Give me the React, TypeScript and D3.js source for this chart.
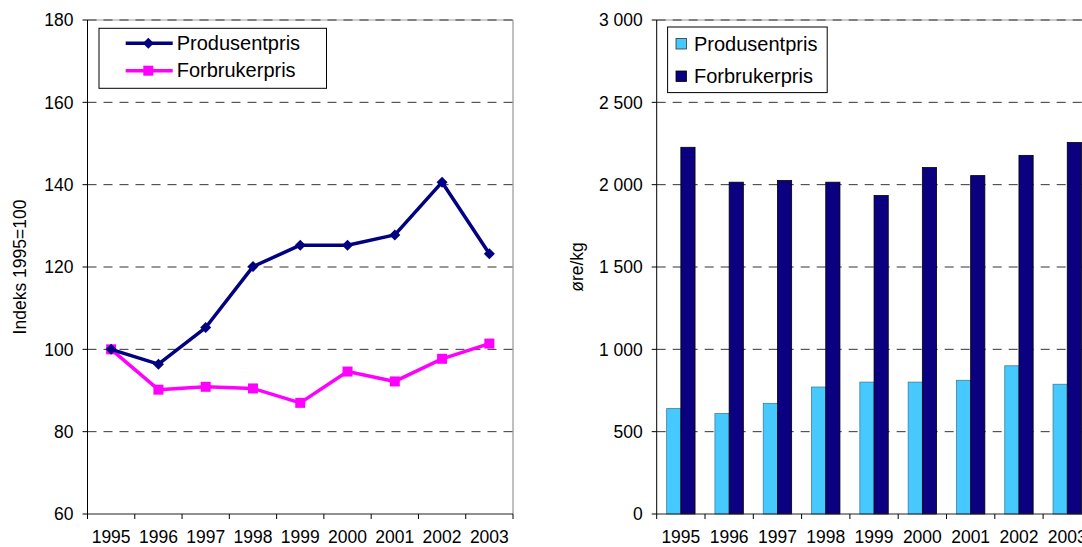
import React from "react";
import * as d3 from "d3";

const years = ["1995", "1996", "1997", "1998", "1999", "2000", "2001", "2002", "2003"];
const produsentIndex = [100, 96.4, 105.3, 120.1, 125.3, 125.3, 127.8, 140.6, 123.2];
const forbrukerIndex = [100, 90.2, 90.9, 90.5, 87.0, 94.6, 92.2, 97.7, 101.4];
const produsentPris = [640, 610, 672, 771, 801, 801, 812, 900, 788];
const forbrukerPris = [2227, 2015, 2025, 2015, 1934, 2104, 2055, 2178, 2256];
const leftTicks = [60, 80, 100, 120, 140, 160, 180];
const rightTicks = [0, 500, 1000, 1500, 2000, 2500, 3000];
const seriesNames = ["Produsentpris", "Forbrukerpris"];

const FONT = "'Liberation Sans', Arial, sans-serif";
const NAVY = "#000080";
const MAGENTA = "#FF00FF";
const SKY = "#45C9FF";
const DARK = "#0A0080";

const TOP = 20;
const BOT = 514;
const XLAB_Y = 543;

function fmtThousands(v: number) {
  const s = String(v);
  return s.length > 3 ? s.slice(0, s.length - 3) + " " + s.slice(s.length - 3) : s;
}

function LeftChart() {
  const x0 = 87.5, x1 = 513;
  const x = d3.scaleBand<string>().domain(years).range([x0, x1]).padding(0);
  const y = d3.scaleLinear().domain([60, 180]).range([BOT, TOP]);
  const cx = (i: number) => (x(years[i]) as number) + x.bandwidth() / 2;
  const line = d3.line<number>().x((_, i) => cx(i)).y((d) => y(d));
  const boundaries = years.map((yr) => x(yr) as number).concat([x1]);
  const diamond = (px: number, py: number, r: number) =>
    `M${px},${py - r}L${px + r},${py}L${px},${py + r}L${px - r},${py}Z`;
  return (
    <g>
      <line x1={x0} x2={x1} y1={TOP} y2={TOP} stroke="#9a9a9a" strokeWidth={1} />
      <line x1={x1} x2={x1} y1={TOP} y2={BOT} stroke="#808080" strokeWidth={1} />
      {leftTicks.filter((t) => t !== 60).map((t) => (
        <line key={t} x1={x0} x2={x1} y1={y(t)} y2={y(t)} stroke="#333" strokeWidth={1} strokeDasharray="9 7" />
      ))}
      <line x1={x0} x2={x0} y1={TOP} y2={BOT} stroke="#000" strokeWidth={1} />
      <line x1={x0} x2={x1} y1={BOT} y2={BOT} stroke="#222" strokeWidth={1} />
      {leftTicks.map((t) => (
        <g key={t}>
          <line x1={x0 - 5} x2={x0} y1={y(t)} y2={y(t)} stroke="#000" />
          <text x={x0 - 14} y={y(t)} dy="0.36em" textAnchor="end" fontSize={17.5} fontFamily={FONT}>{t}</text>
        </g>
      ))}
      {boundaries.map((b, i) => (
        <line key={i} x1={b} x2={b} y1={BOT} y2={BOT + 5} stroke="#000" />
      ))}
      {years.map((yr, i) => (
        <text key={yr} x={cx(i)} y={XLAB_Y} textAnchor="middle" fontSize={17.5} fontFamily={FONT}>{yr}</text>
      ))}
      <text transform={`translate(20,267) rotate(-90)`} textAnchor="middle" dy="0.36em" fontSize={17.5} fontFamily={FONT}>Indeks 1995=100</text>
      <path d={line(forbrukerIndex) || ""} fill="none" stroke={MAGENTA} strokeWidth={3.5} strokeLinejoin="round" />
      {forbrukerIndex.map((v, i) => (
        <rect key={i} x={cx(i) - 5} y={y(v) - 5} width={10} height={10} fill={MAGENTA} />
      ))}
      <path d={line(produsentIndex) || ""} fill="none" stroke={NAVY} strokeWidth={3.5} strokeLinejoin="round" />
      {produsentIndex.map((v, i) => (
        <path key={i} d={diamond(cx(i), y(v), 5.5)} fill={NAVY} />
      ))}
      <rect x={99} y={28.3} width={227.5} height={60} fill="#fff" stroke="#000" strokeWidth={1} />
      <line x1={125.7} x2={172.7} y1={43.3} y2={43.3} stroke={NAVY} strokeWidth={3.5} />
      <path d={diamond(148.3, 43.3, 5.5)} fill={NAVY} />
      <line x1={125.7} x2={172.7} y1={70.7} y2={70.7} stroke={MAGENTA} strokeWidth={3.5} />
      <rect x={148.3 - 5} y={70.7 - 5} width={10} height={10} fill={MAGENTA} />
      <text x={176.7} y={42.5} dy="0.36em" fontSize={20} fontFamily={FONT}>{seriesNames[0]}</text>
      <text x={176.7} y={70} dy="0.36em" fontSize={20} fontFamily={FONT}>{seriesNames[1]}</text>
    </g>
  );
}

function RightChart() {
  const x0 = 656.7;
  const band = 48.3;
  const x1 = x0 + band * years.length;
  const x = d3.scaleBand<string>().domain(years).range([x0, x1]).padding(0);
  const y = d3.scaleLinear().domain([0, 3000]).range([BOT, TOP]);
  const cx = (i: number) => (x(years[i]) as number) + x.bandwidth() / 2;
  const bw = x.bandwidth() * 0.294;
  const boundaries = years.map((yr) => x(yr) as number);
  return (
    <g>
      <line x1={x0} x2={x1} y1={TOP} y2={TOP} stroke="#9a9a9a" strokeWidth={1} />
      {rightTicks.filter((t) => t !== 0).map((t) => (
        <line key={t} x1={x0} x2={x1} y1={y(t)} y2={y(t)} stroke="#333" strokeWidth={1} strokeDasharray="9 7" />
      ))}
      {years.map((yr, i) => (
        <g key={yr}>
          <rect x={cx(i) - bw} y={y(produsentPris[i])} width={bw} height={BOT - y(produsentPris[i])} fill={SKY} stroke="#3f7f99" strokeWidth={0.8} />
          <rect x={cx(i)} y={y(forbrukerPris[i])} width={bw} height={BOT - y(forbrukerPris[i])} fill={DARK} stroke="#000" strokeWidth={0.8} />
        </g>
      ))}
      <line x1={x0} x2={x0} y1={TOP} y2={BOT} stroke="#000" strokeWidth={1} />
      <line x1={x0} x2={x1} y1={BOT} y2={BOT} stroke="#222" strokeWidth={1} />
      {rightTicks.map((t) => (
        <g key={t}>
          <line x1={x0 - 5} x2={x0} y1={y(t)} y2={y(t)} stroke="#000" />
          <text x={x0 - 14} y={y(t)} dy="0.36em" textAnchor="end" fontSize={17.5} fontFamily={FONT}>{fmtThousands(t)}</text>
        </g>
      ))}
      {boundaries.map((b, i) => (
        <line key={i} x1={b} x2={b} y1={BOT} y2={BOT + 5} stroke="#000" />
      ))}
      {years.map((yr, i) => (
        <text key={yr} x={cx(i)} y={XLAB_Y} textAnchor="middle" fontSize={17.5} fontFamily={FONT}>{yr}</text>
      ))}
      <text transform={`translate(577,267) rotate(-90)`} textAnchor="middle" dy="0.36em" fontSize={17.5} fontFamily={FONT}>øre/kg</text>
      <rect x={667.6} y={27} width={159.6} height={65.6} fill="#fff" stroke="#000" strokeWidth={1} />
      <rect x={676} y={38.5} width={10.5} height={10.5} fill={SKY} stroke="#333" strokeWidth={0.8} />
      <rect x={676} y={71} width={10.5} height={10.5} fill={DARK} stroke="#000" strokeWidth={0.8} />
      <text x={694} y={43.7} dy="0.36em" fontSize={20} fontFamily={FONT}>{seriesNames[0]}</text>
      <text x={694} y={76.2} dy="0.36em" fontSize={20} fontFamily={FONT}>{seriesNames[1]}</text>
    </g>
  );
}

export default function App() {
  return (
    <svg
      width={1082}
      height={547}
      viewBox="0 0 1082 547"
      style={{ position: "absolute", left: 0, top: 0, background: "#fff" }}
    >
      <rect x={0} y={0} width={1082} height={547} fill="#fff" />
      <LeftChart />
      <RightChart />
    </svg>
  );
}
